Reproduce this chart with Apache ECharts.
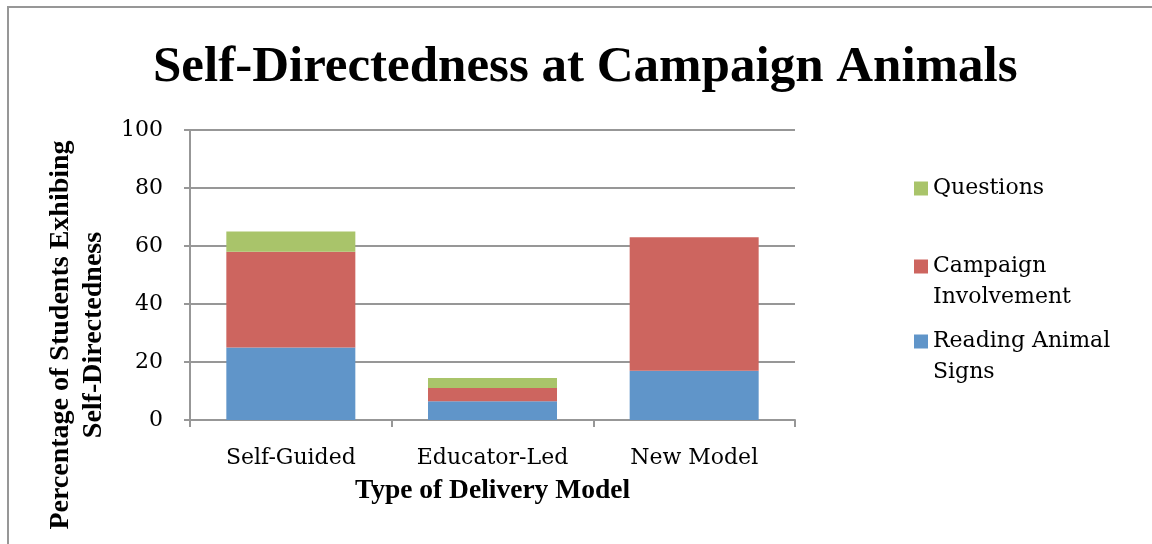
<!DOCTYPE html>
<html>
<head>
<meta charset="utf-8">
<script src="https://cdn.jsdelivr.net/npm/echarts@6/dist/echarts.min.js"></script>
<style>
  html, body { margin: 0; padding: 0; background: #fff; }
  #chart { width: 1152px; height: 544px; }
</style>
</head>
<body>
<div id="chart"></div>
<script>
// data
var categories = ['Self-Guided', 'Educator-Led', 'New Model'];
var readingSigns = [25, 6.5, 17];
var campaignInvolvement = [33, 4.5, 46];
var questions = [7, 3.5, 0];
var yTicks = [0, 20, 40, 60, 80, 100];

var serif = 'DejaVu Serif';
var serifBold = 'Liberation Serif';
var gray = '#979797';

var chart = echarts.init(document.getElementById('chart'));

// legend text style; the two-line names get an empty first line so the
// colour square sits next to the first line, like in the picture
var legendText = { fontFamily: serif, fontSize: 22, color: '#000', lineHeight: 31 };
function firstLineAligned(name) { return '\n' + name; }

var option = {
  backgroundColor: '#fff',
  animation: false,
  title: {
    text: 'Self-Directedness at Campaign Animals',
    left: 148,
    top: 37,
    textStyle: { fontFamily: serifBold, fontWeight: 'bold', fontSize: 51, color: '#000' }
  },
  legend: [
    {
      data: ['Questions'],
      orient: 'vertical', left: 914, top: 173, padding: 0,
      itemWidth: 14, itemHeight: 14, icon: 'rect',
      textStyle: legendText
    },
    {
      data: ['Campaign\nInvolvement'],
      formatter: firstLineAligned,
      orient: 'vertical', left: 914, top: 220, padding: 0,
      itemWidth: 14, itemHeight: 14, icon: 'rect',
      textStyle: legendText
    },
    {
      data: ['Reading Animal\nSigns'],
      formatter: firstLineAligned,
      orient: 'vertical', left: 914, top: 295, padding: 0,
      itemWidth: 14, itemHeight: 14, icon: 'rect',
      textStyle: legendText
    }
  ],
  grid: { left: 190, right: 357, top: 130, bottom: 124, outerBoundsMode: 'none' },
  xAxis: {
    type: 'category',
    data: categories,
    name: 'Type of Delivery Model',
    nameLocation: 'middle',
    nameGap: 57,
    nameTextStyle: { fontFamily: serifBold, fontWeight: 'bold', fontSize: 27.5, color: '#000' },
    axisLine: { lineStyle: { color: gray, width: 2 } },
    axisTick: { show: true, length: 7, lineStyle: { color: gray, width: 2 } },
    axisLabel: { fontFamily: serif, fontSize: 22, color: '#000', margin: 27 }
  },
  yAxis: {
    type: 'value',
    min: yTicks[0],
    max: yTicks[yTicks.length - 1],
    interval: 20,
    name: 'Percentage of Students Exhibing\nSelf-Directedness',
    nameLocation: 'middle',
    nameRotate: 90,
    nameGap: 72,
    nameTextStyle: {
      fontFamily: serifBold, fontWeight: 'bold', fontSize: 28, color: '#000',
      lineHeight: 33, padding: [0, 120, 0, 0]
    },
    axisLine: { show: true, lineStyle: { color: gray, width: 2 } },
    axisTick: { show: true, length: 6, lineStyle: { color: gray, width: 2 } },
    axisLabel: { fontFamily: serif, fontSize: 22, color: '#000', margin: 27 },
    splitLine: { show: true, lineStyle: { color: gray, width: 2 } }
  },
  series: [
    {
      name: 'Reading Animal\nSigns', type: 'bar', stack: 'total', barWidth: 129,
      itemStyle: { color: '#6095C9' }, data: readingSigns
    },
    {
      name: 'Campaign\nInvolvement', type: 'bar', stack: 'total', barWidth: 129,
      itemStyle: { color: '#CD655F' }, data: campaignInvolvement
    },
    {
      name: 'Questions', type: 'bar', stack: 'total', barWidth: 129,
      itemStyle: { color: '#A9C46A' }, data: questions
    }
  ],
  graphic: [
    {
      type: 'polyline',
      shape: { points: [[8, 544], [8, 7], [1152, 7]] },
      style: { stroke: gray, lineWidth: 2, fill: null },
      silent: true
    }
  ]
};

chart.setOption(option);
</script>
</body>
</html>
